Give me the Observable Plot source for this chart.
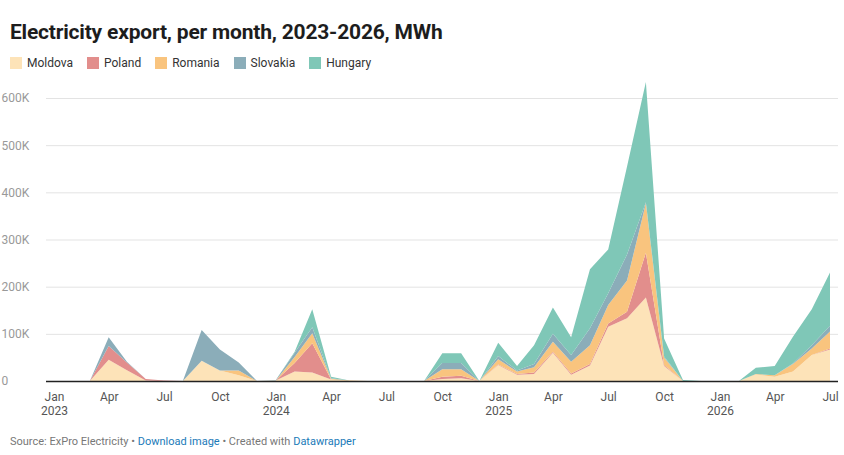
<!DOCTYPE html>
<html><head><meta charset="utf-8">
<script src="https://cdn.jsdelivr.net/npm/d3@7"></script>
<script src="https://cdn.jsdelivr.net/npm/@observablehq/plot@0.6"></script>
<style>
body{margin:0;background:#fff;font-family:Roboto,sans-serif;}
#wrap{padding:0;width:844px;}
h1{font-size:21px;font-weight:700;margin:0;padding:19px 0 0 10px;color:#1d1d1d;letter-spacing:-0.2px;line-height:26px;}
#legend{display:flex;gap:14px;padding:9px 0 0 10px;font-size:12px;color:#333;height:18px;}
#legend span{display:flex;align-items:center;gap:5px;}
#legend i{width:12px;height:12px;display:inline-block;}
#chart{margin-top:8px;}
#cap{font-size:11px;color:#777;padding:0 0 0 10px;margin-top:15px;}
#cap a{color:#1a7ab8;text-decoration:none;}
</style></head><body><div id="wrap">
<h1>Electricity export, per month, 2023-2026, MWh</h1>
<div id="legend"></div>
<div id="chart"></div>
<div id="cap">Source: ExPro Electricity • <a>Download image</a> • Created with <a>Datawrapper</a></div>
</div>
<script>
const series = ["Moldova","Poland","Romania","Slovakia","Hungary"];
const colors = ["#fde3b8","#e28e8c","#f9c47e","#8badb9","#7fc7b7"];
const Moldova = [0,0,0,45,23,1,0,0,43,22,12,0,1,20,18,3,0,0,0,0,0,4,6,0,34,13,15,60,13,33,115,133,177,32,0,0,0,0,14,9,20,55,67];
const Poland = [0,0,0,29,16,3,1,0,0,0,0,0,0,18,62,0,0,0,0,0,0,5,5,0,1,2,3,2,3,3,7,14,95,2,0,0,0,0,0,0,0,0,2];
const Romania = [0,0,0,0,0,0,0,0,0,0,10,0,0,13,21,2,1,0,0,0,0,16,14,0,11,5,11,21,25,40,39,66,105,16,0,0,0,0,1,3,16,14,36];
const Slovakia = [0,0,0,19,2,0,0,0,65,45,17,0,1,9,13,1,0,0,0,0,0,13,13,0,7,2,7,17,14,36,25,55,2,2,0,0,0,0,0,0,1,7,12];
const Hungary = [0,0,0,0,0,0,0,0,0,0,0,0,0,2,38,3,0,0,0,0,0,21,21,0,28,10,40,56,38,125,93,187,255,38,2,0,0,0,13,20,57,76,113];
const months = Moldova.map((_,i)=>new Date(Date.UTC(2023,i,1)));
const yTicks = [0,100000,200000,300000,400000,500000,600000];
const yLabels = ["0","100K","200K","300K","400K","500K","600K"];
const xTicks = months.filter(d=>d.getUTCMonth()%3===0);
const mon = ["Jan","Feb","Mar","Apr","May","Jun","Jul","Aug","Sep","Oct","Nov","Dec"];

const vals = {Moldova,Poland,Romania,Slovakia,Hungary};
const data = [];
series.forEach(s=>vals[s].forEach((v,i)=>data.push({date:months[i],country:s,value:v*1000})));

document.getElementById("legend").innerHTML = series.map((s,i)=>`<span><i style="background:${colors[i]}"></i>${s}</span>`).join("");

const chart = Plot.plot({
  width:844,height:340,
  marginLeft:46,marginRight:6,marginTop:18,marginBottom:39,
  insetLeft:8,insetRight:8,
  style:{fontFamily:"Roboto, sans-serif",fontSize:"12px",color:"#666"},
  x:{type:"utc",domain:[months[0],months[months.length-1]],label:null},
  y:{domain:[0,600000],label:null},
  color:{domain:series,range:colors},
  marks:[
    Plot.ruleY(yTicks.slice(1),{stroke:"#e3e3e3"}),
    Plot.axisY({ticks:yTicks,tickFormat:d=>yLabels[yTicks.indexOf(d)],tickSize:0,textAnchor:"start",dx:-36,fill:"#999"}),
    Plot.axisX({ticks:xTicks,tickFormat:d=>d.getUTCMonth()===0?`Jan\n${d.getUTCFullYear()}`:mon[d.getUTCMonth()],tickSize:0,tickPadding:10,fill:"#555",lineHeight:1.15}),
    Plot.areaY(data,{x:"date",y:"value",z:"country",fill:"country",order:series,curve:"linear"}),
    Plot.ruleY([0],{stroke:"#222",strokeWidth:1.3})
  ]
});
document.getElementById("chart").appendChild(chart);
</script></body></html>
